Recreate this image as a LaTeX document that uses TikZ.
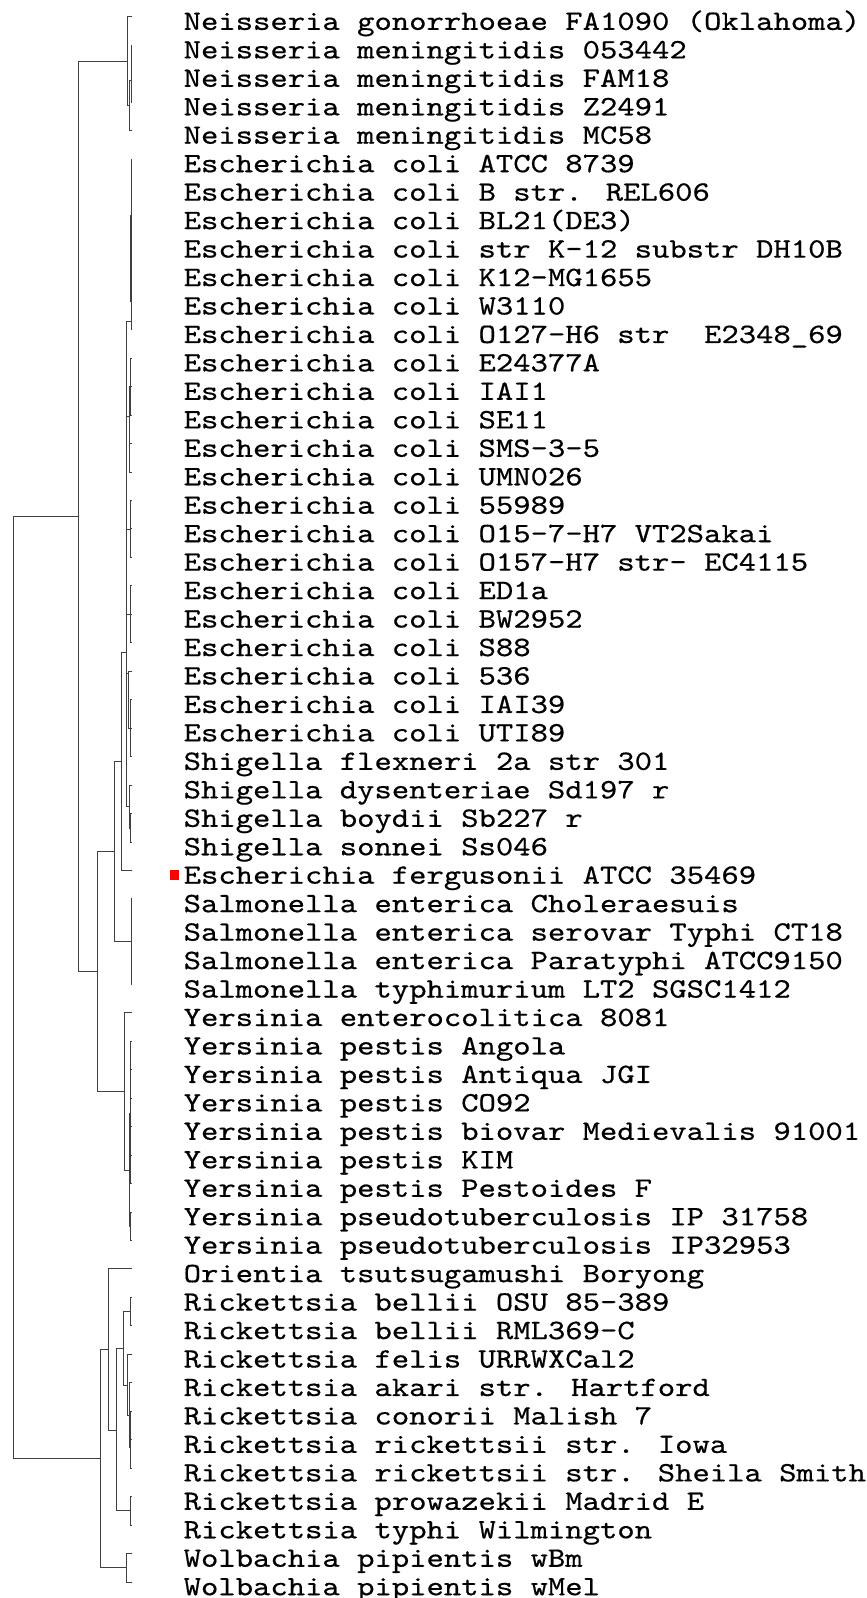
\documentclass[tikz,border=0pt]{standalone}
\usepackage{fontspec}
\newfontfamily\taxonfont[FakeStretch=1.18, FakeBold=0.5]{lmmono10-regular.otf}
\begin{document}
\begin{tikzpicture}[x=1pt, y=-1pt,
  branch/.style={draw=black!75, line width=1pt},
  leaf/.style={font=\taxonfont\fontsize{28}{28}\selectfont, anchor=base west, inner sep=0pt}]
  \useasboundingbox (0,0) rectangle (867,1598);
  % Leaves: names and branch tips
  \foreach \taxon [count=\i] in {
      {Neisseria gonorrhoeae FA1090 (Oklahoma)},
      {Neisseria meningitidis 053442},
      {Neisseria meningitidis FAM18},
      {Neisseria meningitidis Z2491},
      {Neisseria meningitidis MC58},
      {Escherichia coli ATCC 8739},
      {Escherichia coli B str. REL606},
      {Escherichia coli BL21(DE3)},
      {Escherichia coli str K-12 substr DH10B},
      {Escherichia coli K12-MG1655},
      {Escherichia coli W3110},
      {Escherichia coli O127-H6 str\ \ E2348\_69},
      {Escherichia coli E24377A},
      {Escherichia coli IAI1},
      {Escherichia coli SE11},
      {Escherichia coli SMS-3-5},
      {Escherichia coli UMN026},
      {Escherichia coli 55989},
      {Escherichia coli O15-7-H7 VT2Sakai},
      {Escherichia coli O157-H7 str- EC4115},
      {Escherichia coli ED1a},
      {Escherichia coli BW2952},
      {Escherichia coli S88},
      {Escherichia coli 536},
      {Escherichia coli IAI39},
      {Escherichia coli UTI89},
      {Shigella flexneri 2a str 301},
      {Shigella dysenteriae Sd197 r},
      {Shigella boydii Sb227 r},
      {Shigella sonnei Ss046},
      {Escherichia fergusonii ATCC 35469},
      {Salmonella enterica Choleraesuis},
      {Salmonella enterica serovar Typhi CT18},
      {Salmonella enterica Paratyphi ATCC9150},
      {Salmonella typhimurium LT2 SGSC1412},
      {Yersinia enterocolitica 8081},
      {Yersinia pestis Angola},
      {Yersinia pestis Antiqua JGI},
      {Yersinia pestis CO92},
      {Yersinia pestis biovar Medievalis 91001},
      {Yersinia pestis KIM},
      {Yersinia pestis Pestoides F},
      {Yersinia pseudotuberculosis IP 31758},
      {Yersinia pseudotuberculosis IP32953},
      {Orientia tsutsugamushi Boryong},
      {Rickettsia bellii OSU 85-389},
      {Rickettsia bellii RML369-C},
      {Rickettsia felis URRWXCal2},
      {Rickettsia akari str. Hartford},
      {Rickettsia conorii Malish 7},
      {Rickettsia rickettsii str. Iowa},
      {Rickettsia rickettsii str. Sheila Smith},
      {Rickettsia prowazekii Madrid E},
      {Rickettsia typhi Wilmington},
      {Wolbachia pipientis wBm},
      {Wolbachia pipientis wMel}} {
    \node[leaf] (l\i) at (183.5, {16.7+28.46*(\i-1)+13.2}) {\taxon};
    \coordinate (t\i) at (132, {16.7+28.46*(\i-1)});
  }
  % Query strain
  \node[fill=red, inner sep=0pt, minimum size=9.5pt] (query) at (174.7, 875) {};

  % Root
  \coordinate (root) at (13, 987);
  \coordinate (A) at (78, 516.5);
  \coordinate (R) at (100, 1458.8);
  \draw[branch] (root) |- (A) (root) |- (R);

  % Neisseria
  \coordinate (nei) at (127, 61);
  \coordinate (nei2) at (129.5, 105);
  \coordinate (nei3) at (131, 80);
  \coordinate (B) at (97, 971.7);
  \draw[branch] (A) |- (nei) (A) |- (B);
  \draw[branch] (nei) |- (t1) (nei) |- (nei2);
  \draw[branch] (nei2) |- (nei3) (nei2) |- (t5);
  \draw[branch] (nei3) |- (t2) (nei3) |- (t3) (nei3) |- (t4);

  % Enterobacteriaceae
  \coordinate (C) at (114, 851.5);
  \coordinate (yer) at (124, 1091.5);
  \draw[branch] (B) |- (C) (B) |- (yer);
  \coordinate (D) at (121, 761.4);
  \coordinate (sal) at (131, 941.6);
  \draw[branch] (C) |- (D) (C) |- (sal);
  \coordinate (E) at (126.5, 652.3);
  \draw[branch] (D) |- (E) (D) |- (t31);

  % E. coli and Shigella
  \coordinate (ec1) at (131, 321.7);
  \coordinate (ec1b) at (130, 301.3);
  \coordinate (ec2) at (129, 416);
  \coordinate (ec2b) at (130.5, 386.7);
  \coordinate (ec3) at (130.5, 529);
  \coordinate (ec4) at (130, 614.4);
  \coordinate (ec5) at (128.5, 673);
  \coordinate (ec5b) at (130.5, 728.2);
  \coordinate (shi) at (129.5, 806.7);
  \coordinate (shi2) at (130.5, 828);
  \draw[branch] (E) |- (ec1) (E) |- (ec2) (E) |- (ec3) (E) |- (ec4)
    (E) |- (ec5) (E) |- (shi);
  \draw[branch] (ec1) |- (t6) (ec1) |- (t7) (ec1) |- (ec1b) (ec1) |- (t12);
  \draw[branch] (ec1b) |- (t8) (ec1b) |- (t9) (ec1b) |- (t10) (ec1b) |- (t11);
  \draw[branch] (ec2) |- (ec2b) (ec2) |- (t16) (ec2) |- (t17);
  \draw[branch] (ec2b) |- (t13) (ec2b) |- (t14) (ec2b) |- (t15);
  \draw[branch] (ec3) |- (t18) (ec3) |- (t19) (ec3) |- (t20);
  \draw[branch] (ec4) |- (t21) (ec4) |- (t22) (ec4) |- (t23);
  \draw[branch] (ec5) |- (t24) (ec5) |- (ec5b);
  \draw[branch] (ec5b) |- (t25) (ec5b) |- (t26) (ec5b) |- (t27);
  \draw[branch] (shi) |- (t28) (shi) |- (shi2);
  \draw[branch] (shi2) |- (t29) (shi2) |- (t30);

  % Salmonella
  \draw[branch] (sal) |- (t32) (sal) |- (t33) (sal) |- (t34) (sal) |- (t35);

  % Yersinia
  \coordinate (yp) at (129, 1170);
  \coordinate (yp2) at (130.5, 1113);
  \coordinate (yp3) at (130.5, 1226);
  \draw[branch] (yer) |- (t36) (yer) |- (yp);
  \draw[branch] (yp) |- (yp2) (yp) |- (yp3);
  \draw[branch] (yp2) |- (t37) (yp2) |- (t38) (yp2) |- (t39) (yp2) |- (t40)
    (yp2) |- (t41) (yp2) |- (t42);
  \draw[branch] (yp3) |- (t43) (yp3) |- (t44);

  % Rickettsiales
  \coordinate (ric) at (108.3, 1349.5);
  \coordinate (wol) at (126.7, 1567.7);
  \draw[branch] (R) |- (ric) (R) |- (wol);
  \coordinate (ric2) at (116.7, 1430);
  \draw[branch] (ric) |- (t45) (ric) |- (ric2);
  \coordinate (ric3) at (123.7, 1348.3);
  \coordinate (typ) at (130, 1510.7);
  \draw[branch] (ric2) |- (ric3) (ric2) |- (typ);
  \coordinate (bel) at (130, 1311.6);
  \coordinate (sfg) at (127.5, 1385);
  \coordinate (sfg2) at (129.3, 1415);
  \coordinate (sfg3) at (130.3, 1447);
  \draw[branch] (ric3) |- (bel) (ric3) |- (sfg);
  \draw[branch] (bel) |- (t46) (bel) |- (t47);
  \draw[branch] (sfg) |- (t48) (sfg) |- (sfg2);
  \draw[branch] (sfg2) |- (t49) (sfg2) |- (sfg3);
  \draw[branch] (sfg3) |- (t50) (sfg3) |- (t51) (sfg3) |- (t52);
  \draw[branch] (typ) |- (t53) (typ) |- (t54);
  \draw[branch] (wol) |- (t55) (wol) |- (t56);
\end{tikzpicture}
\end{document}
